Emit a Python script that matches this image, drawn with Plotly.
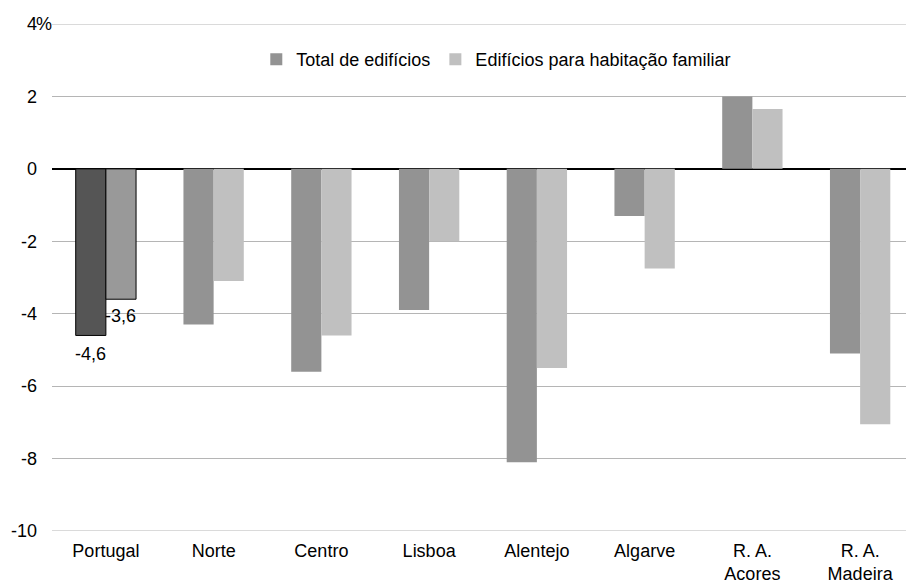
import plotly.graph_objects as go

categories = ["Portugal", "Norte", "Centro", "Lisboa", "Alentejo", "Algarve", "R. A.<br>Acores", "R. A.<br>Madeira"]
total_edificios = [-4.6, -4.3, -5.6, -3.9, -8.1, -1.3, 2.0, -5.1]
habitacao_familiar = [-3.6, -3.1, -4.6, -2.0, -5.5, -2.75, 1.65, -7.05]
series_names = ["Total de edifícios", "Edifícios para habitação familiar"]
tick_vals = [-10, -8, -6, -4, -2, 0, 2, 4]
tick_text = ["-10", "-8", "-6", "-4", "-2", "0", "2", "4"]
unit_label = "%"
portugal_labels = ["-4,6", "-3,6"]

FONT = "Liberation Sans, Arial, sans-serif"
FS = 18
GRID = "#b5b5b5"
fig = go.Figure()

# regional bars (legend entries)
fig.add_trace(go.Bar(x=categories[1:], y=total_edificios[1:], name=series_names[0],
                     marker=dict(color="#939393", line=dict(width=0)), offsetgroup="a"))
fig.add_trace(go.Bar(x=categories[1:], y=habitacao_familiar[1:], name=series_names[1],
                     marker=dict(color="#c0c0c0", line=dict(width=0)), offsetgroup="b"))
# Portugal highlighted bars
fig.add_trace(go.Bar(x=categories[:1], y=total_edificios[:1], showlegend=False,
                     marker=dict(color="#555555", line=dict(color="#000000", width=1)), offsetgroup="a"))
fig.add_trace(go.Bar(x=categories[:1], y=habitacao_familiar[:1], showlegend=False,
                     marker=dict(color="#999999", line=dict(color="#000000", width=1)), offsetgroup="b"))

fig.add_annotation(x=categories[0], y=total_edificios[0], text=portugal_labels[0], showarrow=False,
                   xshift=-15, yshift=-7, yanchor="top", font=dict(size=FS, color="#000"))
fig.add_annotation(x=categories[0], y=habitacao_familiar[0], text=portugal_labels[1], showarrow=False,
                   xshift=15, yshift=-5, yanchor="top", font=dict(size=FS, color="#000"))
# unit sign next to the top tick
fig.add_annotation(xref="paper", x=0, y=tick_vals[-1], text=unit_label, showarrow=False,
                   xanchor="right", xshift=2, yanchor="middle", font=dict(size=FS, color="#000"))

# gridlines at the plot edges
for v in (tick_vals[0], tick_vals[-1]):
    fig.add_shape(type="line", xref="paper", x0=0, x1=1, y0=v, y1=v,
                  line=dict(color=GRID, width=1), layer="below")

# the page body adds an 8px margin, so the figure is sized/placed to compensate
fig.update_layout(
    width=906, height=579,
    margin=dict(l=44, r=0, t=16, b=56, autoexpand=False),
    paper_bgcolor="white", plot_bgcolor="white",
    font=dict(family=FONT, size=FS, color="#000"),
    barmode="group", bargap=0.44, bargroupgap=0,
    legend=dict(orientation="h", x=0.237, y=0.93, xanchor="left", yanchor="middle",
                font=dict(size=FS), bgcolor="rgba(0,0,0,0)", itemclick=False),
    xaxis=dict(categoryorder="array", categoryarray=categories, showline=False,
               ticks="", showgrid=False, tickfont=dict(size=FS), automargin=False,
               ticklabelstandoff=7),
    yaxis=dict(range=[-10, 4], tickvals=tick_vals, ticktext=tick_text, showgrid=True,
               gridcolor=GRID, gridwidth=1, zeroline=True, zerolinecolor="#000000",
               zerolinewidth=2, ticks="", ticklabelstandoff=14, tickfont=dict(size=FS),
               automargin=False),
)

fig.write_html("out.html")
